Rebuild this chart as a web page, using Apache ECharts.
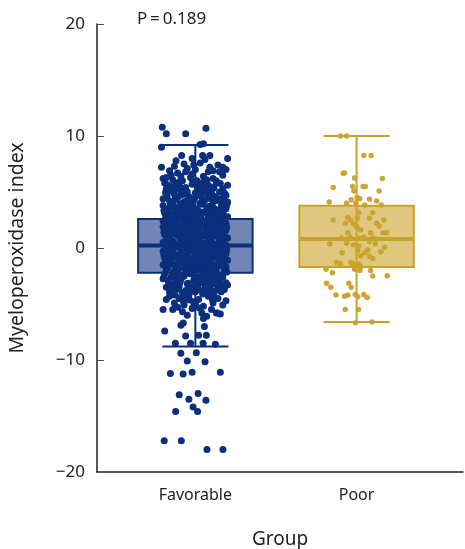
<!DOCTYPE html>
<html>
<head>
<meta charset="utf-8">
<script src="https://cdn.jsdelivr.net/npm/echarts@6/dist/echarts.min.js"></script>
<style>
  html, body { margin: 0; padding: 0; background: #fff; }
  #chart { width: 465px; height: 549px; }
</style>
</head>
<body>
<div id="chart"></div>
<script>
// 组别
const groups = ['Favorable', 'Poor']
const yTicks = [-20, -10, 0, 10, 20]
// 箱线图数值 (low, Q1, median, Q3, high)
const boxLow = [-8.8, -6.6]
const boxQ1 = [-2.2, -1.7]
const boxMed = [0.22, 0.8]
const boxQ3 = [2.6, 3.78]
const boxHigh = [9.2, 10.0]

// Favorable 散点: [横向抖动, 数值]
const favPoints = [
  // 上部离群
  [-0.205, 10.78], [-0.18, 10.2], [-0.06, 10.2], [0.066, 10.7], [-0.21, 9.0], [0.05, 9.3], [0.03, 9.25],
  [-0.085, 8.25], [0.045, 8.25], [0.09, 8.25], [0.2, 8.0], [-0.02, 8.0], [-0.21, 7.2], [0.17, 7.2], [-0.2, 6.2],
  // 6 ~ 8
  [-0.12, 7.8], [0.03, 7.6], [-0.05, 7.1], [0.14, 7.4], [-0.16, 6.9], [0.08, 6.8], [-0.02, 6.6], [0.17, 6.5],
  [-0.09, 6.4], [0.11, 6.2], [-0.14, 6.1], [0.01, 6.0], [0.19, 7.0], [-0.07, 7.5], [0.06, 7.9], [-0.18, 6.3],
  [0.13, 6.0], [-0.03, 6.3], [0.09, 7.2], [-0.11, 6.7],
  [-0.13, 7.3], [0.0, 7.0], [0.11, 6.9], [-0.06, 6.8], [0.05, 6.4], [-0.15, 6.5], [0.15, 6.8], [-0.01, 7.4],
  [0.07, 6.1], [-0.08, 6.0],
  // 4 ~ 6
  [-0.19, 5.8], [-0.15, 5.5], [-0.1, 5.9], [-0.06, 5.4], [-0.02, 5.7], [0.02, 5.2], [0.05, 5.9], [0.09, 5.5],
  [0.13, 5.8], [0.17, 5.3], [0.2, 5.6], [-0.17, 5.0], [-0.13, 4.8], [-0.08, 5.1], [-0.04, 4.6], [0.0, 4.9],
  [0.04, 4.5], [0.08, 4.9], [0.12, 4.6], [0.15, 5.0], [0.19, 4.7], [-0.2, 4.4], [-0.16, 4.2], [-0.11, 4.5],
  [-0.07, 4.1], [-0.01, 4.3], [0.03, 4.0], [0.07, 4.4], [0.11, 4.1], [0.16, 4.3], [0.2, 4.1], [-0.18, 5.3],
  [-0.05, 5.0], [0.06, 5.3], [0.14, 4.4], [-0.12, 5.6], [0.1, 5.0], [-0.09, 4.7], [0.01, 5.5], [0.18, 4.9],
  [-0.185, 4.95], [-0.125, 4.35], [-0.065, 4.85], [-0.025, 4.15], [0.015, 4.7], [0.055, 4.2], [0.095, 4.75],
  [0.135, 4.25], [0.175, 4.55], [-0.005, 4.45], [0.065, 5.0], [-0.105, 5.25],
  [-0.175, 5.65], [-0.095, 5.45], [-0.015, 5.95], [0.035, 5.65], [0.075, 5.7], [0.115, 5.35], [0.155, 5.75],
  [-0.135, 5.15], [-0.155, 3.95], [-0.055, 4.25], [0.035, 4.85], [0.105, 4.4], [0.165, 4.0], [-0.175, 4.6],
  // 2 ~ 4
  [-0.2, 3.8], [-0.17, 3.5], [-0.14, 3.9], [-0.11, 3.6], [-0.08, 3.8], [-0.05, 3.4], [-0.02, 3.7], [0.01, 3.5],
  [0.04, 3.9], [0.07, 3.6], [0.1, 3.8], [0.13, 3.4], [0.16, 3.7], [0.19, 3.5], [-0.19, 3.1], [-0.16, 2.8],
  [-0.13, 3.2], [-0.1, 2.9], [-0.07, 3.2], [-0.04, 2.8], [-0.01, 3.1], [0.02, 2.9], [0.05, 3.2], [0.08, 2.8],
  [0.11, 3.1], [0.14, 2.9], [0.17, 3.2], [0.2, 2.8], [-0.2, 2.4], [-0.17, 2.2], [-0.14, 2.5], [-0.11, 2.1],
  [-0.08, 2.5], [-0.05, 2.2], [-0.02, 2.4], [0.01, 2.1], [0.04, 2.5], [0.07, 2.2], [0.1, 2.4], [0.13, 2.1],
  [0.16, 2.5], [0.19, 2.2], [-0.06, 3.95], [0.09, 3.3], [-0.12, 2.7], [0.0, 2.65], [0.12, 2.6], [-0.18, 2.0],
  [0.06, 2.0], [-0.03, 3.3], [0.15, 2.3], [-0.09, 3.45], [0.18, 3.9], [-0.15, 3.0], [0.03, 2.3],
  [-0.145, 3.65], [-0.085, 3.3], [-0.035, 3.85], [0.025, 3.25], [0.085, 3.7], [0.145, 3.15], [0.195, 3.85],
  [-0.195, 3.35], [-0.185, 2.65], [-0.125, 2.35], [-0.065, 2.75], [-0.025, 2.15], [0.015, 2.7], [0.055, 2.4],
  [0.095, 2.7], [0.135, 2.35], [0.175, 2.75], [-0.005, 2.5],
  [-0.095, 3.95], [0.075, 3.1], [-0.175, 3.05], [-0.115, 3.35], [-0.015, 3.45], [0.115, 3.55], [0.175, 2.95],
  [-0.065, 2.35], [0.035, 2.85], [0.105, 2.15], [-0.155, 2.15],
  // 0 ~ 2
  [-0.2, 1.9], [-0.17, 1.6], [-0.14, 1.8], [-0.11, 1.5], [-0.08, 1.9], [-0.05, 1.6], [-0.02, 1.8], [0.01, 1.5],
  [0.04, 1.9], [0.07, 1.6], [0.1, 1.8], [0.13, 1.5], [0.16, 1.9], [0.19, 1.6], [-0.19, 1.2], [-0.16, 0.9],
  [-0.13, 1.3], [-0.1, 1.0], [-0.07, 1.2], [-0.04, 0.9], [-0.01, 1.3], [0.02, 1.0], [0.05, 1.2], [0.08, 0.9],
  [0.11, 1.3], [0.14, 1.0], [0.17, 1.2], [0.2, 0.9], [-0.2, 0.5], [-0.17, 0.3], [-0.14, 0.6], [-0.11, 0.2],
  [-0.08, 0.5], [-0.05, 0.3], [-0.02, 0.6], [0.01, 0.2], [0.04, 0.5], [0.07, 0.3], [0.1, 0.6], [0.13, 0.2],
  [0.16, 0.5], [0.19, 0.3], [-0.18, 0.05], [-0.12, 0.1], [-0.06, 0.0], [0.0, 0.1], [0.06, 0.05], [0.12, 0.0],
  [0.18, 0.1], [-0.15, 1.45], [0.09, 1.4], [-0.03, 0.75], [0.15, 0.7], [-0.09, 1.7], [0.03, 1.15], [-0.16, 0.75],
  [0.12, 1.65], [-0.01, 0.4], [0.18, 1.35], [-0.07, 0.15],
  [-0.145, 1.65], [-0.085, 1.35], [-0.035, 1.95], [0.025, 1.35], [0.085, 1.75], [0.145, 1.25], [0.195, 1.85],
  [-0.195, 1.4], [0.045, 1.05], [-0.115, 1.15], [-0.185, 0.65], [-0.125, 0.35], [-0.065, 0.75], [-0.025, 0.15],
  [0.015, 0.7], [0.055, 0.4], [0.095, 0.75], [0.135, 0.35], [0.175, 0.8], [-0.005, 0.5],
  [-0.045, 1.45], [0.065, 1.45], [0.155, 1.55], [-0.175, 1.05], [-0.095, 0.85], [0.005, 0.95], [0.105, 1.05],
  [-0.135, 0.05], [-0.045, 0.25], [0.045, 0.15], [0.155, 0.1],
  // -2 ~ 0
  [-0.2, -0.3], [-0.17, -0.5], [-0.14, -0.2], [-0.11, -0.6], [-0.08, -0.3], [-0.05, -0.5], [-0.02, -0.2], [0.01, -0.6],
  [0.04, -0.3], [0.07, -0.5], [0.1, -0.2], [0.13, -0.6], [0.16, -0.3], [0.19, -0.5], [-0.19, -0.9], [-0.16, -1.1],
  [-0.13, -0.8], [-0.1, -1.2], [-0.07, -0.9], [-0.04, -1.1], [-0.01, -0.8], [0.02, -1.2], [0.05, -0.9], [0.08, -1.1],
  [0.11, -0.8], [0.14, -1.2], [0.17, -0.9], [0.2, -1.1], [-0.2, -1.5], [-0.17, -1.7], [-0.14, -1.4], [-0.11, -1.8],
  [-0.08, -1.5], [-0.05, -1.7], [-0.02, -1.4], [0.01, -1.8], [0.04, -1.5], [0.07, -1.7], [0.1, -1.4], [0.13, -1.8],
  [0.16, -1.5], [0.19, -1.7], [-0.18, -1.95], [-0.12, -1.9], [-0.06, -2.0], [0.0, -1.95], [0.06, -1.9], [0.12, -2.0],
  [0.18, -1.95], [-0.15, -0.65], [0.09, -0.7], [-0.03, -1.3], [0.15, -1.3], [-0.09, -0.1], [0.03, -0.05], [-0.16, -1.25],
  [0.12, -0.4], [-0.01, -1.6], [0.18, -0.7], [-0.07, -1.35],
  [-0.145, -0.35], [-0.085, -0.65], [-0.035, -0.05], [0.025, -0.7], [0.085, -0.25], [0.145, -0.85], [0.195, -0.15],
  [-0.195, -0.6], [0.045, -0.95], [-0.115, -0.85], [-0.185, -1.35], [-0.125, -1.65], [-0.065, -1.25], [-0.025, -1.85],
  [0.015, -1.3], [0.055, -1.6], [0.095, -1.25], [0.135, -1.65], [0.175, -1.2],
  [-0.175, -0.15], [-0.075, -0.45], [0.015, -0.35], [0.115, -0.55], [-0.155, -1.05], [-0.045, -0.95], [0.065, -1.35],
  [0.165, -1.45], [-0.095, -1.75], [0.025, -1.95], [0.105, -1.75], [-0.175, -1.8],
  // -4 ~ -2
  [-0.19, -2.3], [-0.15, -2.6], [-0.11, -2.2], [-0.07, -2.5], [-0.03, -2.3], [0.01, -2.6], [0.05, -2.2], [0.09, -2.5],
  [0.13, -2.3], [0.17, -2.6], [-0.17, -2.9], [-0.13, -3.1], [-0.09, -2.8], [-0.05, -3.2], [-0.01, -2.9], [0.03, -3.1],
  [0.07, -2.8], [0.11, -3.2], [0.15, -2.9], [0.19, -3.1], [-0.18, -3.5], [-0.14, -3.7], [-0.1, -3.4], [-0.06, -3.8],
  [-0.02, -3.5], [0.02, -3.7], [0.06, -3.4], [0.1, -3.8], [0.14, -3.5], [0.18, -3.7], [-0.16, -3.95], [-0.08, -4.0],
  [0.0, -3.9], [0.08, -4.0], [0.16, -3.9], [-0.12, -2.45], [0.04, -2.7], [-0.04, -3.6], [0.12, -3.0], [-0.2, -2.75],
  [0.2, -3.3], [-0.15, -3.3], [0.09, -3.6], [-0.01, -2.4], [0.15, -2.4],
  [-0.145, -2.35], [-0.085, -2.65], [-0.035, -2.05], [0.025, -2.7], [0.085, -2.25], [0.145, -2.85], [0.195, -2.15],
  [-0.195, -2.6], [-0.005, -2.5], [0.045, -2.95], [-0.115, -2.85], [-0.165, -3.25], [-0.105, -3.65], [-0.045, -3.15],
  [0.015, -3.55], [0.075, -3.2], [0.135, -3.75],
  [-0.135, -2.15], [-0.055, -2.25], [0.045, -2.35], [0.125, -2.65], [-0.095, -3.05], [0.005, -3.25], [0.095, -2.95],
  [0.165, -3.4], [-0.135, -3.5], [-0.025, -3.85], [0.055, -3.75],
  // -6 ~ -4
  [-0.16, -4.3], [-0.1, -4.5], [-0.04, -4.2], [0.02, -4.6], [0.08, -4.3], [0.14, -4.5], [-0.13, -4.9], [-0.07, -5.1],
  [-0.01, -4.8], [0.05, -5.2], [0.11, -4.9], [0.17, -5.1], [-0.14, -5.5], [-0.08, -5.7], [-0.02, -5.4], [0.04, -5.8],
  [0.1, -5.5], [-0.05, -6.0], [0.07, -6.1], [-0.11, -5.3], [0.13, -5.8], [0.0, -5.0], [-0.18, -4.6], [0.19, -4.7],
  [-0.06, -4.4], [-0.125, -4.2], [-0.035, -4.65], [0.045, -4.1], [0.105, -4.55], [-0.075, -4.75], [0.025, -5.35],
  [-0.065, -4.3], [0.115, -4.2], [-0.015, -5.3],
  // 下部离群
  [-0.2, -5.5], [0.155, -5.9], [0.135, -5.8], [0.05, -6.3], [-0.09, -6.9], [-0.075, -6.7], [0.056, -7.0],
  [-0.19, -7.4], [0.068, -7.8], [0.02, -7.8], [-0.06, -7.85], [-0.124, -8.5], [-0.03, -8.5], [0.048, -8.5],
  [0.124, -8.6], [-0.09, -9.4], [0.006, -9.35], [-0.05, -10.1], [0.06, -10.15], [-0.155, -11.2], [-0.076, -11.25],
  [-0.02, -11.1], [0.155, -11.1], [-0.1, -13.1], [0.017, -13.0], [-0.04, -13.5], [0.066, -13.6], [-0.014, -14.2],
  [0.014, -14.6], [-0.122, -14.6], [-0.193, -17.2], [-0.087, -17.2], [0.072, -18.0], [0.171, -18.0]
]

// Poor 散点: [横向抖动, 数值]
const poorPoints = [
  [-0.1, 10.0], [-0.062, 10.0], [0.045, 8.25], [0.09, 8.25], [-0.083, 6.67], [-0.075, 6.7], [-0.012, 6.25],
  [0.16, 6.2], [-0.145, 5.4], [-0.025, 5.5], [0.04, 5.5], [0.054, 5.5], [0.14, 5.1], [-0.016, 5.1],
  [-0.17, 4.1], [-0.062, 4.0], [-0.033, 4.3], [0.004, 4.5], [0.02, 4.4], [0.08, 4.35], [0.124, 4.2],
  [0.05, 3.85], [0.153, 3.85], [-0.004, 4.05],
  [-0.145, 2.5], [-0.054, 2.74], [-0.037, 2.5], [0.004, 2.65], [0.012, 3.15], [0.1, 3.15], [0.08, 2.65],
  [0.17, 2.5], [0.124, 2.2], [0.14, 1.96], [-0.07, 2.2], [-0.02, 2.14], [0.0, 1.9], [0.165, 1.37],
  [0.186, 1.37], [0.087, 1.37], [-0.054, 1.37], [0.025, 1.6],
  [-0.095, 0.86], [-0.04, 0.95], [0.02, 0.86], [0.045, 0.95], [0.1, 0.86], [0.124, 0.78], [0.08, 0.57],
  [-0.166, 0.36], [-0.062, 0.42], [-0.02, 0.27], [0.014, 0.18], [0.116, 0.36], [0.174, 0.06],
  [-0.09, -0.42], [0.008, -0.24], [0.05, -0.42], [0.07, -0.18], [0.15, -0.33], [0.08, -0.77], [0.1, -0.92],
  [0.025, -0.71],
  [-0.124, -1.3], [-0.1, -1.43], [-0.037, -1.3], [-0.02, -1.43], [-0.006, -1.6], [0.014, -1.43], [0.025, -1.67],
  [-0.19, -1.9], [-0.15, -2.2], [-0.012, -1.9], [0.02, -2.0], [0.087, -2.0], [0.1, -2.5], [0.19, -2.47],
  [-0.186, -3.15], [-0.16, -3.5], [-0.048, -3.15], [-0.033, -3.5],
  [-0.128, -4.2], [-0.075, -4.3], [-0.054, -4.2], [-0.008, -4.15], [0.008, -4.35], [0.045, -4.15], [0.066, -4.43],
  [-0.07, -5.5], [0.012, -5.5], [-0.006, -6.67], [0.095, -6.6]
]

const navy = '#0b2f7d'
const gold = '#c9a22c'
const lineColors = [navy, gold]
const fillColors = ['rgba(11,47,125,0.58)', 'rgba(201,162,44,0.6)']
const fontFamily = '"Noto Sans", "Open Sans", sans-serif'

const boxData = groups.map((g, i) => [i + 1, boxLow[i], boxQ1[i], boxMed[i], boxQ3[i], boxHigh[i]])

// 画箱体与须线
function renderBox(params, api) {
  const i = params.dataIndex
  const x = api.value(0)
  const pLow = api.coord([x, api.value(1)])
  const pQ1 = api.coord([x, api.value(2)])
  const pMed = api.coord([x, api.value(3)])
  const pQ3 = api.coord([x, api.value(4)])
  const pHigh = api.coord([x, api.value(5)])
  const halfBox = api.size([0.355, 0])[0]
  const halfCap = api.size([0.205, 0])[0]
  const c = lineColors[i]
  return {
    type: 'group',
    children: [
      { type: 'line', shape: { x1: pLow[0], y1: pLow[1], x2: pHigh[0], y2: pHigh[1] }, style: { stroke: c, lineWidth: 2 } },
      { type: 'line', shape: { x1: pHigh[0] - halfCap, y1: pHigh[1], x2: pHigh[0] + halfCap, y2: pHigh[1] }, style: { stroke: c, lineWidth: 2 } },
      { type: 'line', shape: { x1: pLow[0] - halfCap, y1: pLow[1], x2: pLow[0] + halfCap, y2: pLow[1] }, style: { stroke: c, lineWidth: 2 } },
      {
        type: 'rect',
        shape: { x: pQ3[0] - halfBox, y: pQ3[1], width: halfBox * 2, height: pQ1[1] - pQ3[1] },
        style: { fill: fillColors[i], stroke: c, lineWidth: 2 }
      },
      { type: 'line', shape: { x1: pMed[0] - halfBox, y1: pMed[1], x2: pMed[0] + halfBox, y2: pMed[1] }, style: { stroke: c, lineWidth: 4 } }
    ]
  }
}

const chart = echarts.init(document.getElementById('chart'))
chart.setOption({
  animation: false,
  textStyle: { fontFamily: fontFamily },
  title: {
    text: 'P\u2009=\u20090.189',
    left: 132,
    top: 6,
    textStyle: { fontSize: 17, fontWeight: 'normal', color: '#222', fontFamily: fontFamily }
  },
  grid: {
    left: 97,
    right: 2,
    top: 24,
    bottom: 77,
    containLabel: false,
    outerBoundsMode: 'none'
  },
  xAxis: {
    type: 'value',
    min: 0.39,
    max: 2.66,
    name: 'Group',
    nameLocation: 'middle',
    nameGap: 58,
    nameTextStyle: { fontSize: 19, color: '#222' },
    axisLine: { onZero: false, lineStyle: { color: '#222', width: 1.5 } },
    axisTick: { show: false },
    splitLine: { show: false },
    axisLabel: {
      customValues: [1, 2],
      formatter: v => groups[Math.round(v) - 1],
      fontSize: 16,
      color: '#222',
      margin: 15
    }
  },
  yAxis: {
    type: 'value',
    min: yTicks[0],
    max: yTicks[yTicks.length - 1],
    interval: 10,
    name: 'Myeloperoxidase index',
    nameLocation: 'middle',
    nameRotate: 90,
    nameGap: 70,
    nameTextStyle: { fontSize: 19.5, color: '#222' },
    axisLine: { show: true, onZero: false, lineStyle: { color: '#222', width: 1.5 } },
    axisTick: { show: true, inside: true, length: 7, lineStyle: { color: '#555' } },
    splitLine: { show: false },
    axisLabel: {
      fontSize: 17,
      color: '#222',
      margin: 12,
      formatter: v => String(v).replace('-', '\u2212')
    }
  },
  series: [
    {
      type: 'custom',
      renderItem: renderBox,
      data: boxData,
      z: 2,
      silent: true
    },
    {
      type: 'scatter',
      data: favPoints.map(p => [1 + p[0], p[1]]),
      symbolSize: 7,
      itemStyle: { color: navy, opacity: 1 },
      z: 3
    },
    {
      type: 'scatter',
      data: poorPoints.map(p => [2 + p[0], p[1]]),
      symbolSize: 5.5,
      itemStyle: { color: gold, opacity: 0.95 },
      z: 3
    }
  ]
})
</script>
</body>
</html>
